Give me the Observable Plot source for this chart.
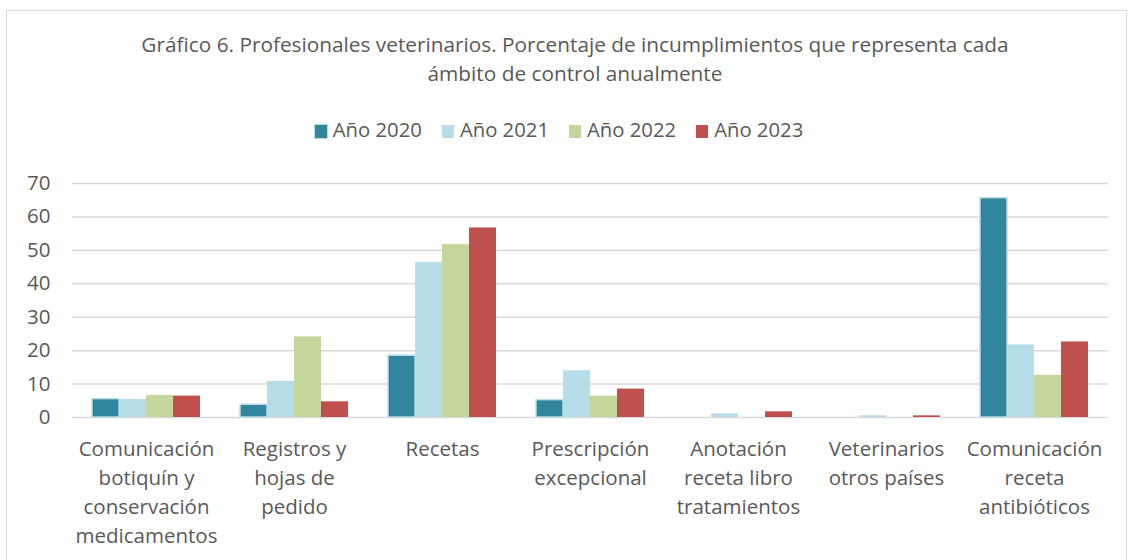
<!DOCTYPE html>
<html><head><meta charset="utf-8">
<script src="https://cdn.jsdelivr.net/npm/d3@7"></script>
<script src="https://cdn.jsdelivr.net/npm/@observablehq/plot@0.6"></script>
<style>
body{margin:0;background:#fff;font-family:"Open Sans",Lato,sans-serif;color:#595959;width:1130px;height:560px;overflow:hidden;position:relative}
#frame{position:absolute;left:6px;top:10px;width:1121px;height:600px;border:1.5px solid #d9d9d9;box-sizing:border-box}
#title{position:absolute;left:0;top:30px;width:1150px;text-align:center;font-size:20.8px;line-height:29px}
#legend{position:absolute;left:-6px;top:115px;width:1130px;text-align:center;font-size:20.3px;line-height:29px;white-space:nowrap}
#legend span.item{display:inline-block;margin:0 10px}
#legend span.sw{display:inline-block;width:12px;height:13px;margin-right:6px;vertical-align:-1px}
#chart{position:absolute;left:0;top:160px}
</style></head>
<body>
<div id="frame"></div>
<div id="title">Gráfico 6. Profesionales veterinarios. Porcentaje de incumplimientos que representa cada<br>ámbito de control anualmente</div>
<div id="legend"></div>
<div id="chart"></div>
<script>
const categories = ["Comunicación botiquín y conservación medicamentos","Registros y hojas de pedido","Recetas","Prescripción excepcional","Anotación receta libro tratamientos","Veterinarios otros países","Comunicación receta antibióticos"];
const categoryLabels = ["Comunicación\nbotiquín y\nconservación\nmedicamentos","Registros y\nhojas de\npedido","Recetas","Prescripción\nexcepcional","Anotación\nreceta libro\ntratamientos","Veterinarios\notros países","Comunicación\nreceta\nantibióticos"];
const years = ["Año 2020","Año 2021","Año 2022","Año 2023"];
const v2020 = [5.5, 3.8, 18.5, 5.2, 0, 0, 65.6];
const v2021 = [5.4, 10.8, 46.4, 14.0, 1.1, 0.5, 21.7];
const v2022 = [6.6, 24.1, 51.7, 6.4, 0, 0, 12.6];
const v2023 = [6.4, 4.7, 56.7, 8.5, 1.7, 0.5, 22.6];
const yTicks = [0,10,20,30,40,50,60,70];
const colors = ["#31859c","#b7dde8","#c3d69b","#c0504d"];

const series = [v2020, v2021, v2022, v2023];
const rows = [];
categories.forEach((c, i) => years.forEach((y, j) => rows.push({cat: c, year: y, v: series[j][i]})));
const labelOf = new Map(categories.map((c, i) => [c, categoryLabels[i]]));

const legend = document.getElementById("legend");
years.forEach((y, j) => {
  const it = document.createElement("span"); it.className = "item";
  const sw = document.createElement("span"); sw.className = "sw"; sw.style.background = colors[j];
  if (j === 0) sw.style.boxShadow = "0 0 0 1px #b7dde8";
  it.appendChild(sw); it.appendChild(document.createTextNode(y));
  legend.appendChild(it);
});

const chart = Plot.plot({
  width: 1130, height: 400,
  marginLeft: 70, marginRight: 20, marginTop: 23, marginBottom: 143,
  style: {fontFamily: "'Open Sans', Lato, sans-serif", fontSize: "20.5px", color: "#595959", background: "transparent", overflow: "visible"},
  fx: {domain: categories, paddingInner: 0, paddingOuter: 0},
  x: {domain: years, paddingInner: 0, paddingOuter: 0.7, axis: null},
  y: {domain: [0, 70], label: null},
  color: {domain: years, range: colors},
  marks: [
    Plot.gridY(yTicks, {stroke: "#d9d9d9", strokeOpacity: 1, strokeWidth: 1.5}),
    Plot.barY(rows.filter(d => d.v > 0 && d.year === years[0]), {fx: "cat", x: "year", y: "v", fill: "year", stroke: colors[1], strokeWidth: 1.5}),
    Plot.barY(rows.filter(d => d.v > 0 && d.year !== years[0]), {fx: "cat", x: "year", y: "v", fill: "year"}),
    Plot.axisY(yTicks, {tickSize: 0, tickPadding: 22, fontSize: 20.5, label: null, fill: "#595959"}),
    Plot.axisFx({anchor: "bottom", tickSize: 0, tickPadding: 18, lineHeight: 1.42, fontSize: 20.5, label: null, fill: "#595959", tickFormat: d => labelOf.get(d)})
  ]
});
document.getElementById("chart").appendChild(chart);
</script>
</body></html>
